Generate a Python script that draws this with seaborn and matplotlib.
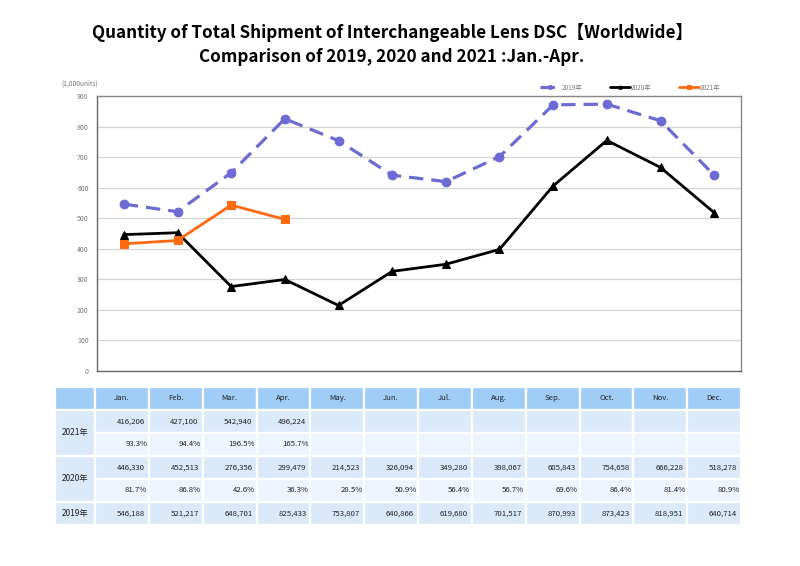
import numpy as np
import pandas as pd
import seaborn as sns
import matplotlib.pyplot as plt
from matplotlib.patches import Rectangle

months = ['Jan.', 'Feb.', 'Mar.', 'Apr.', 'May.', 'Jun.', 'Jul.', 'Aug.', 'Sep.', 'Oct.', 'Nov.', 'Dec.']

units_2021 = [416206, 427100, 542940, 496224]
units_2020 = [446330, 452513, 276356, 299479, 214523, 326094, 349280, 398067, 605843, 754658, 666228, 518278]
units_2019 = [546188, 521217, 648701, 825433, 753807, 640866, 619680, 701517, 870993, 873423, 818951, 640714]

pct_2021 = [93.3, 94.4, 196.5, 165.7]
pct_2020 = [81.7, 86.8, 42.6, 36.3, 28.5, 50.9, 56.4, 56.7, 69.6, 86.4, 81.4, 80.9]

sns.set_theme(style='white')
plt.rcParams['font.family'] = ['Noto Sans CJK JP', 'DejaVu Sans']

fig = plt.figure(figsize=(8, 5.66), dpi=100)
ax = fig.add_axes([97 / 800, 1 - 371 / 566, 644 / 800, 275 / 566])

df19 = pd.DataFrame({'m': np.arange(12), 'v': np.array(units_2019) / 1000})
df20 = pd.DataFrame({'m': np.arange(12), 'v': np.array(units_2020) / 1000})
df21 = pd.DataFrame({'m': np.arange(len(units_2021)), 'v': np.array(units_2021) / 1000})

sns.lineplot(data=df19, x='m', y='v', ax=ax, color='#6b6bd3', lw=2.3, ls=(0, (4.5, 2.5)),
             marker='o', ms=6.3, mec='#6b6bd3', label='2019年')
sns.lineplot(data=df20, x='m', y='v', ax=ax, color='black', lw=2.0,
             marker='^', ms=5.5, mec='black', label='2020年')
sns.lineplot(data=df21, x='m', y='v', ax=ax, color='#ff6a10', lw=2.0,
             marker='s', ms=5.5, mec='#ff6a10', label='2021年')

ax.set_xlim(-0.5, 11.5)
ax.set_ylim(0, 900)
ax.set_yticks(range(0, 901, 100))
ax.set_xticks([])
ax.set_xlabel('')
ax.set_ylabel('')
ax.yaxis.grid(True, color='#d4d4d4', lw=0.9)
ax.tick_params(axis='y', labelsize=5, colors='#777777', length=0, pad=6)
for s in ax.spines.values():
    s.set_color('#888888')
    s.set_linewidth(1.0)
ax.spines['left'].set_color('#666666')
ax.spines['bottom'].set_color('#666666')

ax.text(-0.027, 1.03, '(1,000units)', transform=ax.transAxes, fontsize=4.8,
        color='#777777', ha='center', va='bottom')

leg = ax.legend(loc='lower right', bbox_to_anchor=(0.975, 1.0), ncol=3, frameon=False,
                fontsize=4.6, handlelength=3.2, columnspacing=4.3, handletextpad=0.1,
                borderaxespad=0.3, markerscale=0.45)
for t in leg.get_texts():
    t.set_color('#777777')

fig.text(0.49, 0.942, 'Quantity of Total Shipment of Interchangeable Lens DSC【Worldwide】',
         ha='center', va='center', fontsize=12.3, fontweight='bold', color='black')
fig.text(0.49, 0.899, 'Comparison of 2019, 2020 and 2021 :Jan.-Apr.',
         ha='center', va='center', fontsize=12.3, fontweight='bold', color='black')

# table under the chart
tab = fig.add_axes([55 / 800, 1 - 525 / 566, 686 / 800, 138 / 566])
tab.set_xlim(0, 686)
tab.set_ylim(6, 0)
tab.axis('off')

label_w = 40
col_w = (686 - label_w) / 12
header_c = '#a0cdf6'
dark_c = '#dce9f9'
light_c = '#edf4fd'
txt_c = '#222222'
fs = 5.6


def cell(x, y, w, h, color):
    tab.add_patch(Rectangle((x, y), w, h, facecolor=color, edgecolor='white', lw=1.6))


cell(0, 0, label_w, 1, header_c)
for i, m in enumerate(months):
    x = label_w + i * col_w
    cell(x, 0, col_w, 1, header_c)
    tab.text(x + col_w / 2, 0.5, m, ha='center', va='center', fontsize=fs, color=txt_c)

rows = [('2021年', units_2021, pct_2021, 1),
        ('2020年', units_2020, pct_2020, 3)]
for name, vals, pcts, r in rows:
    cell(0, r, label_w, 2, dark_c)
    tab.text(label_w / 2, r + 1, name, ha='center', va='center', fontsize=6, color=txt_c)
    for i in range(12):
        x = label_w + i * col_w
        cell(x, r, col_w, 1, dark_c)
        cell(x, r + 1, col_w, 1, light_c)
        if i < len(vals):
            tab.text(x + col_w - 4, r + 0.5, f'{vals[i]:,}', ha='right', va='center',
                     fontsize=fs, color=txt_c)
            tab.text(x + col_w - 1.5, r + 1.5, f'{pcts[i]:.1f}%', ha='right', va='center',
                     fontsize=fs, color=txt_c)

cell(0, 5, label_w, 1, dark_c)
tab.text(label_w / 2, 5.5, '2019年', ha='center', va='center', fontsize=6, color=txt_c)
for i in range(12):
    x = label_w + i * col_w
    cell(x, 5, col_w, 1, dark_c)
    tab.text(x + col_w - 4, 5.5, f'{units_2019[i]:,}', ha='right', va='center',
             fontsize=fs, color=txt_c)

fig.savefig('out.png', dpi=100)
